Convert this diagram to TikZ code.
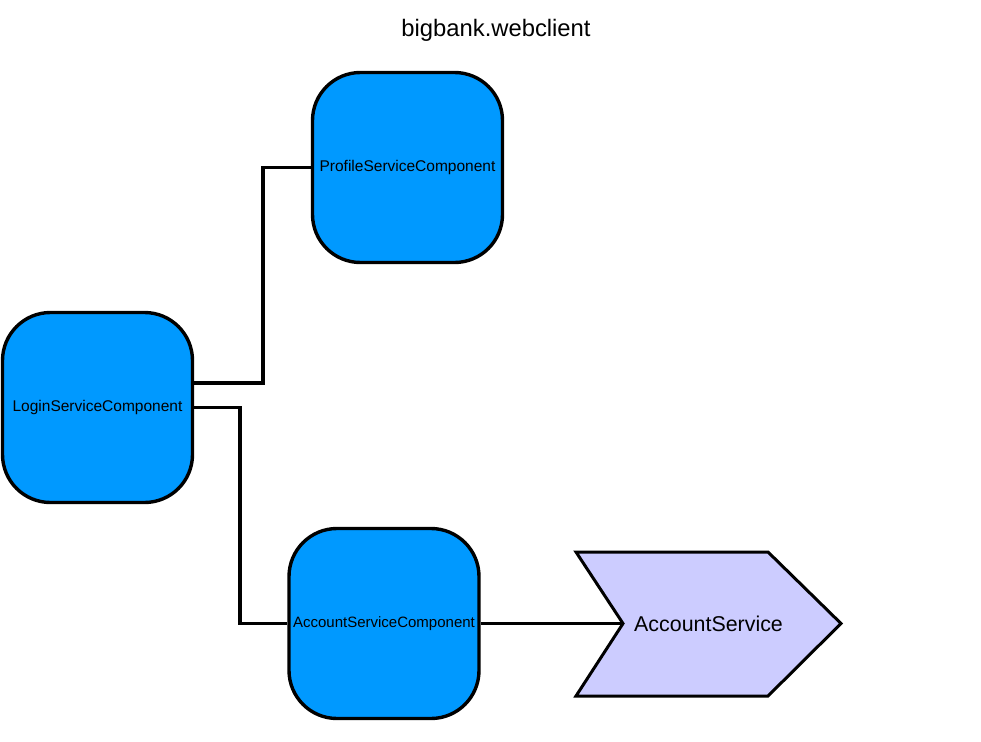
\documentclass[tikz,border=0pt]{standalone}
\usepackage{fontspec}
\setmainfont{Liberation Sans}
\usetikzlibrary{positioning}

\begin{document}
\begin{tikzpicture}[x=1pt,y=-1pt]
\tikzset{
  compnode/.style={rectangle,rounded corners=48pt,draw,line width=3.4pt,fill=compblue,minimum width=190pt,minimum height=190pt,inner sep=0pt,font=\fontsize{15.5}{18}\selectfont},
  wire/.style={line width=3.4pt},
  svcshape/.style={draw,line width=3pt,line join=miter,fill=svclilac}
}
\definecolor{compblue}{RGB}{0,153,255}
\definecolor{svclilac}{RGB}{204,204,255}
\useasboundingbox (0,0) rectangle (981,741);
\node[font=\fontsize{23.8}{27}\selectfont] (n_title) at (496,30) {bigbank.webclient};
\node[compnode] (n_profile) at (407.5,167.5) {ProfileServiceComponent};
\node[compnode] (n_login) at (97.5,407.5) {LoginServiceComponent};
\node[compnode,font=\fontsize{15}{18}\selectfont] (n_account) at (384,623.5) {AccountServiceComponent};
\draw[svcshape] (576,552) -- (768,552) -- (841,623.5) -- (768,696) -- (576,696) -- (623,623.5) -- cycle;
\coordinate (n_notch) at (623,623.5);
\node[anchor=west,inner sep=0pt,font=\fontsize{21.4}{24}\selectfont] (n_svc) at (634,623.5) {AccountService};
\coordinate (n_jogA) at (263,0);
\coordinate (n_jogB) at (240,0);
\draw[wire] ([yshift=24.5pt]n_login.east) -| (n_jogA |- n_profile.west) -- (n_profile.west);
\draw[wire] (n_login.east) -| (n_jogB |- n_account.west) -- (n_account.west);
\draw[wire] (n_account.east) -- (n_notch);
\end{tikzpicture}
\end{document}
